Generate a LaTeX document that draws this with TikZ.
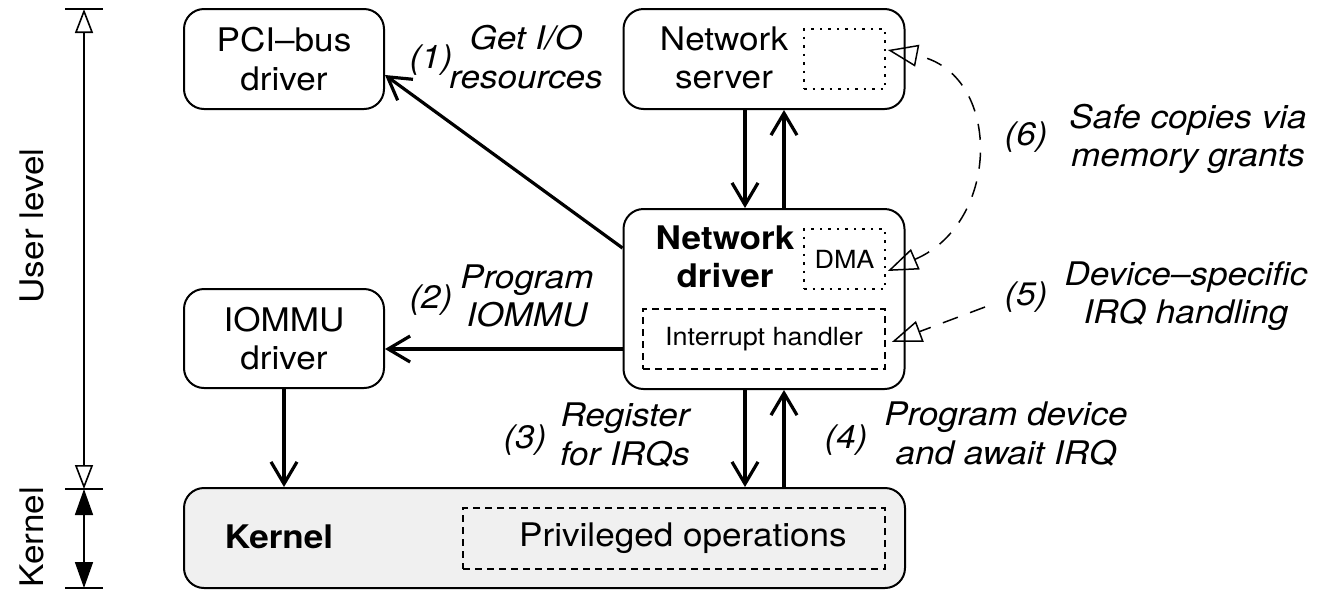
\documentclass[tikz,border=0pt]{standalone}
\usepackage{fontspec}
\setmainfont{TeX Gyre Heros}[FakeStretch=1.08]
\usetikzlibrary{arrows.meta}
\definecolor{kerngray}{HTML}{F0F0F0}
\tikzset{
  box/.style={draw, line width=2pt, rounded corners=20pt, inner sep=0pt},
  txt/.style={align=center, inner sep=0pt, font=\fontsize{32.5}{38.5}\selectfont},
  lbl/.style={align=center, inner sep=0pt, font=\fontsize{32.5}{38.5}\selectfont\itshape},
  small/.style={font=\fontsize{25}{30}\selectfont},
  dotbox/.style={draw, line width=1.6pt, dash pattern=on 2.5pt off 6pt, inner sep=0pt},
  dashbox/.style={draw, line width=1.6pt, dash pattern=on 7pt off 5pt, inner sep=0pt},
  arr/.style={line width=3.2pt, -{Straight Barb[length=22pt,width=26pt]}},
  dasharr/.style={line width=1.5pt, dash pattern=on 16pt off 13pt, -{Triangle[open,length=30pt,width=22pt,line width=1.5pt]}},
  dimline/.style={line width=1.6pt},
}
\begin{document}
\begin{tikzpicture}[x=1pt,y=-1pt]
\useasboundingbox (0,0) rectangle (1327,590);
% boxes
\node[box, minimum width=200pt, minimum height=100pt, txt] (pci) at (284,59) {PCI–bus\\driver};
\node[box, minimum width=281pt, minimum height=100pt] (srv) at (764,59) {};
\node[txt] (srvt) at (724,58) {Network\\server};
\node[dotbox, minimum width=81pt, minimum height=60pt] (srvbuf) at (844.5,59) {};
\node[box, minimum width=281pt, minimum height=180pt] (drv) at (764,299) {};
\node[txt, font=\fontsize{32.5}{38.5}\selectfont\bfseries] (drvt) at (725,257) {Network\\driver};
\node[dotbox, minimum width=81pt, minimum height=60pt, small] (dma) at (844.5,259) {DMA};
\node[dashbox, minimum width=242pt, minimum height=60pt, small] (ih) at (764,339) {Interrupt handler};
\node[box, minimum width=200pt, minimum height=99pt, txt] (iommu) at (284,338.5) {IOMMU\\driver};
\node[box, fill=kerngray, minimum width=721pt, minimum height=100pt] (kern) at (544.5,538) {};
\node[txt, font=\fontsize{32.5}{38.5}\selectfont\bfseries] (kernt) at (279,537) {Kernel};
\node[dashbox, minimum width=422pt, minimum height=61pt, txt] (priv) at (674,538.5) {\hspace*{18pt}Privileged operations};
% coordinates for vertical arrows
\coordinate (xa) at (745,0);
\coordinate (xb) at (784,0);
% solid arrows
\draw[arr] ([yshift=51pt]drv.west) -- ([yshift=-16pt]pci.east);
\draw[arr] ([yshift=-50pt]drv.west) -- ([yshift=-50pt]drv.west -| iommu.east);
\draw[arr] (iommu.south) -- (kern.north -| iommu.south);
\draw[arr] (srv.south -| xa) -- (drv.north -| xa);
\draw[arr] (drv.north -| xb) -- (srv.south -| xb);
\draw[arr] (drv.south -| xa) -- (kern.north -| xa);
\draw[arr] (kern.north -| xb) -- (drv.south -| xb);
% dashed connectors
\draw[dasharr, {Triangle[open,length=30pt,width=22pt,line width=1.5pt]}-{Triangle[open,length=30pt,width=22pt,line width=1.5pt]}]
  ([xshift=2pt,yshift=-12pt]dma.east) .. controls (1002,222) and (1002,72) .. ([xshift=2pt,yshift=9pt]srvbuf.east);
\coordinate (e5) at (985,307);
\draw[dasharr] (e5) -- ([xshift=6pt,yshift=-3pt]ih.east);
% labels
\node[lbl] (n1) at (431,60) {(1)};
\node[lbl] (l1) at (526,57) {Get I/O\\resources};
\node[lbl] (n2) at (431,300) {(2)};
\node[lbl] (l2) at (527,296) {Program\\IOMMU};
\node[lbl] (n3) at (525,440) {(3)};
\node[lbl] (l3) at (625,435) {Register\\for IRQs};
\node[lbl] (n4) at (846,440) {(4)};
\node[lbl] (l4) at (1006,434) {Program device\\and await IRQ};
\node[lbl] (n6) at (1026,137) {(6)};
\node[lbl] (l6) at (1188,139) {Safe copies via\\memory grants};
\node[lbl] (n5) at (1026,297) {(5)};
\node[lbl] (l5) at (1186,296) {Device–specific\\IRQ handling};
% level dimension
\coordinate (t1) at (84,9);
\coordinate (t2) at (84,489);
\coordinate (t3) at (84,588);
\draw[dimline] ([xshift=-19pt]t1) -- ([xshift=19pt]t1);
\draw[dimline] ([xshift=-19pt]t2) -- ([xshift=19pt]t2);
\draw[dimline] ([xshift=-19pt]t3) -- ([xshift=19pt]t3);
\draw[dimline, {Triangle[open,length=24pt,width=18pt,line width=1.6pt]}-{Triangle[open,length=24pt,width=18pt,line width=1.6pt]}] (t1) -- (t2);
\draw[dimline, {Triangle[length=26pt,width=18pt]}-{Triangle[length=26pt,width=18pt]}] (t2) -- (t3);
\node[txt, rotate=90] (ul) at (32,226) {User level};
\node[txt, rotate=90] (kl) at (32,537) {Kernel};
\end{tikzpicture}
\end{document}
